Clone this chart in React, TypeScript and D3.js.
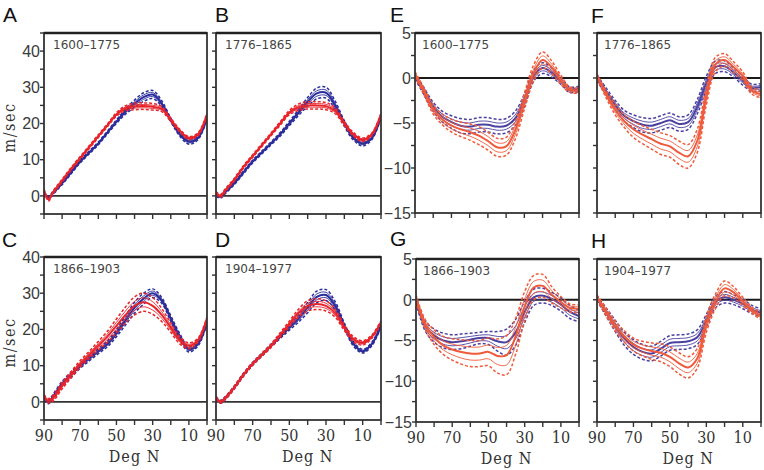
import React from "react";
import * as d3 from "d3";

// Latitude grids (deg N)
const LAT_U = [90, 87.5, 85, 80, 75, 70, 65, 60, 55, 50, 45, 40, 35, 30, 25, 20, 15, 10, 5, 0];
const LAT_V = [90, 85, 80, 75, 70, 65, 60, 55, 50, 45, 40, 35, 30, 25, 20, 15, 10, 5, 0];

// Zonal wind (m/sec), panels A-D
const A_BLUE = [0.8, -0.5, 0.8, 3.5, 6.5, 9.5, 12, 14.5, 17.5, 20.5, 23.3, 25.5, 27.3, 28, 25.5, 21, 17, 15, 16, 21.5];
const A_BLUE_SD = [0.4, 0.4, 0.4, 0.4, 0.4, 0.4, 0.4, 0.4, 0.4, 0.5, 0.7, 1.0, 1.2, 1.1, 0.8, 0.5, 0.5, 0.7, 0.5, 0.4];
const A_RED = [1.5, -1, 1, 4.2, 7.5, 10.5, 13.5, 16.5, 19.5, 22.5, 24.2, 24.7, 24.8, 24.6, 24, 21, 18, 16, 17, 22.5];
const A_RED_SD = [0.4, 0.4, 0.4, 0.4, 0.4, 0.4, 0.4, 0.4, 0.4, 0.5, 0.7, 0.9, 0.9, 0.9, 0.7, 0.5, 0.4, 0.4, 0.4, 0.4];

const B_BLUE = [0.3, -0.2, 1, 3.5, 6.5, 9.5, 12, 14.5, 17, 20, 23, 26, 28.3, 28.5, 25, 20, 16, 14.5, 16, 22];
const B_BLUE_SD = [0.4, 0.4, 0.4, 0.4, 0.4, 0.4, 0.4, 0.4, 0.5, 0.6, 0.8, 1.2, 1.5, 1.5, 1.2, 0.8, 0.6, 0.7, 0.5, 0.4];
const B_RED = [0.8, 0, 1.5, 4.5, 8, 11, 14, 17, 20, 23, 24.5, 25, 25, 24.8, 23.5, 20, 17, 15.5, 17, 22.5];
const B_RED_SD = [0.4, 0.4, 0.4, 0.4, 0.4, 0.4, 0.4, 0.4, 0.5, 0.6, 0.9, 1.0, 1.0, 1.0, 0.8, 0.6, 0.5, 0.5, 0.4, 0.4];

const C_BLUE = [1, 0, 1.5, 5, 7.5, 10, 12, 14, 16, 19, 22.5, 26, 28.5, 30, 28, 23, 18, 14.5, 16, 22];
const C_BLUE_SD = [0.5, 0.5, 0.6, 0.7, 0.7, 0.7, 0.7, 0.7, 0.8, 1.0, 1.3, 1.5, 1.5, 1.2, 0.8, 0.8, 0.8, 0.7, 0.6, 0.5];
const C_RED = [1.5, 0.3, 1, 4.5, 7.5, 10.5, 13, 15.5, 18, 21, 24, 26.5, 27.5, 26.5, 24, 20.5, 17, 15.5, 17, 23];
const C_RED_SD = [0.5, 0.6, 0.8, 0.9, 0.9, 0.9, 1.0, 1.2, 1.5, 1.9, 2.2, 2.5, 2.5, 2.3, 1.8, 1.3, 1.0, 0.8, 0.6, 0.5];

const D_BLUE = [1, 0, 1, 4, 7.5, 10.5, 13, 15.5, 18, 20.5, 23, 26, 29, 29.5, 26.5, 21, 16, 14, 16, 21];
const D_BLUE_SD = [0.4, 0.4, 0.4, 0.4, 0.4, 0.4, 0.4, 0.4, 0.5, 0.7, 1.0, 1.4, 1.6, 1.5, 1.2, 0.8, 0.6, 0.5, 0.5, 0.4];
const D_RED = [1.2, 0, 1, 4, 7.5, 10.5, 13, 15.5, 18.5, 21.5, 24.5, 26.5, 27, 26.5, 24.5, 20.5, 17.3, 16.3, 18, 22];
const D_RED_SD = [0.4, 0.4, 0.4, 0.4, 0.4, 0.4, 0.4, 0.5, 0.6, 0.8, 1.1, 1.4, 1.5, 1.4, 1.1, 0.8, 0.7, 0.6, 0.5, 0.4];

// Meridional wind (m/sec), panels E-H
const E_BLUE = [0.2, -1.5, -3.2, -4.3, -4.9, -5.3, -5.4, -5.2, -5.2, -5.4, -5.3, -4.5, -2.5, 0.2, 1.1, 0.6, -0.3, -1.3, -1.2];
const E_BLUE_SD = [0.3, 0.4, 0.5, 0.6, 0.7, 0.8, 0.8, 0.8, 0.8, 0.8, 0.8, 0.8, 0.7, 0.6, 0.6, 0.5, 0.4, 0.3, 0.3];
const E_RED = [0.4, -1.5, -3.5, -4.6, -5.3, -5.7, -6.0, -6.4, -7.0, -7.7, -7.6, -5.8, -2.6, 0.5, 2.0, 1.2, -0.2, -1.3, -1.4];
const E_RED_SD = [0.3, 0.4, 0.5, 0.6, 0.7, 0.8, 0.9, 1.0, 1.0, 1.0, 1.0, 1.0, 0.9, 0.9, 0.9, 0.7, 0.5, 0.3, 0.3];

const F_BLUE = [0, -1.5, -3, -4.2, -4.8, -5.2, -5.3, -5.0, -4.7, -5.1, -4.9, -3.2, -0.6, 1.2, 1.3, 0.6, -0.3, -1.1, -1.0];
const F_BLUE_SD = [0.3, 0.4, 0.5, 0.6, 0.7, 0.8, 0.8, 0.8, 0.8, 0.8, 0.8, 0.8, 0.8, 0.7, 0.6, 0.5, 0.5, 0.4, 0.4];
const F_RED = [0.2, -1.8, -3.5, -4.8, -5.7, -6.3, -6.8, -7.3, -7.6, -8.3, -8.7, -7.0, -2.0, 1.5, 2.0, 1.2, 0.2, -1.4, -1.8];
const F_RED_SD = [0.3, 0.4, 0.6, 0.7, 0.9, 1.0, 1.1, 1.2, 1.2, 1.3, 1.3, 1.3, 1.0, 0.8, 0.7, 0.6, 0.5, 0.4, 0.4];

const G_BLUE = [0, -3.2, -4.4, -5.0, -5.2, -5.1, -4.9, -4.7, -4.7, -5.1, -5.2, -4.0, -1.5, 0.3, 0.5, 0.1, -0.6, -1.5, -2.0];
const G_BLUE_SD = [0.4, 0.6, 0.8, 0.9, 0.9, 0.9, 0.8, 0.7, 0.8, 1.2, 1.6, 1.6, 1.3, 1.0, 0.9, 0.8, 0.8, 0.8, 0.7];
const G_RED = [0.2, -3.0, -4.6, -5.6, -6.1, -6.4, -6.6, -6.6, -6.4, -6.9, -6.8, -4.5, -0.8, 1.5, 1.7, 0.6, -0.3, -1.0, -1.1];
const G_RED_SD = [0.4, 0.6, 0.9, 1.1, 1.3, 1.5, 1.6, 1.6, 1.7, 2.1, 2.4, 2.2, 1.8, 1.5, 1.4, 1.0, 0.7, 0.5, 0.5];

const H_BLUE = [0.2, -1.5, -3.2, -4.8, -5.8, -6.4, -6.6, -6.0, -5.3, -5.2, -5.1, -4.6, -2.6, -0.3, 0.3, 0, -0.5, -1.2, -1.6];
const H_BLUE_SD = [0.3, 0.5, 0.7, 0.8, 0.9, 0.9, 0.9, 0.9, 0.9, 0.9, 0.9, 0.9, 0.8, 0.7, 0.7, 0.6, 0.6, 0.5, 0.5];
const H_RED = [0.3, -1.5, -3.2, -4.5, -5.5, -6.0, -6.3, -6.5, -7.0, -7.8, -8.3, -7.2, -3.0, -0.2, 1.4, 0.9, -0.2, -1.3, -2.0];
const H_RED_SD = [0.3, 0.5, 0.6, 0.7, 0.8, 0.9, 1.0, 1.1, 1.2, 1.3, 1.3, 1.2, 1.0, 0.9, 0.9, 0.7, 0.5, 0.4, 0.4];

const PERIODS = ["1600–1775", "1776–1865", "1866–1903", "1904–1977"];
const X_TICKS = [90, 80, 70, 60, 50, 40, 30, 20, 10, 0];
const X_LABELS = [90, 70, 50, 30, 10];
const U_LABELS = [0, 10, 20, 30, 40];
const V_LABELS = [5, 0, -5, -10, -15];

const COLORS = {
  u: { blue: "#2a2d9a", red: "#e8242b" },
  v: { blue: "#4a40a0", red: "#ef5a3a" },
};

type PanelCfg = {
  letter: string;
  period: string;
  kind: "u" | "v";
  blue: number[];
  blueSd: number[];
  red: number[];
  redSd: number[];
  box: [number, number, number, number];
  dom: [number, number];
  letterPos: [number, number];
  yLabels: boolean;
  xLabels: boolean;
};

const PANELS: PanelCfg[] = [
  { letter: "A", period: PERIODS[0], kind: "u", blue: A_BLUE, blueSd: A_BLUE_SD, red: A_RED, redSd: A_RED_SD, box: [44, 207, 33, 214], dom: [-5, 45], letterPos: [3, 22], yLabels: true, xLabels: false },
  { letter: "B", period: PERIODS[1], kind: "u", blue: B_BLUE, blueSd: B_BLUE_SD, red: B_RED, redSd: B_RED_SD, box: [216, 381, 33, 214], dom: [-5, 45], letterPos: [215, 22], yLabels: false, xLabels: false },
  { letter: "E", period: PERIODS[0], kind: "v", blue: E_BLUE, blueSd: E_BLUE_SD, red: E_RED, redSd: E_RED_SD, box: [415, 579, 33, 213], dom: [-15, 5], letterPos: [390, 22], yLabels: true, xLabels: false },
  { letter: "F", period: PERIODS[1], kind: "v", blue: F_BLUE, blueSd: F_BLUE_SD, red: F_RED, redSd: F_RED_SD, box: [597, 761, 33, 213], dom: [-15, 5], letterPos: [591, 23], yLabels: false, xLabels: false },
  { letter: "C", period: PERIODS[2], kind: "u", blue: C_BLUE, blueSd: C_BLUE_SD, red: C_RED, redSd: C_RED_SD, box: [44, 207, 257, 420], dom: [-5, 40], letterPos: [2, 247], yLabels: true, xLabels: true },
  { letter: "D", period: PERIODS[3], kind: "u", blue: D_BLUE, blueSd: D_BLUE_SD, red: D_RED, redSd: D_RED_SD, box: [216, 381, 257, 420], dom: [-5, 40], letterPos: [215, 247], yLabels: false, xLabels: true },
  { letter: "G", period: PERIODS[2], kind: "v", blue: G_BLUE, blueSd: G_BLUE_SD, red: G_RED, redSd: G_RED_SD, box: [416, 579, 259, 422], dom: [-15, 5], letterPos: [390, 246], yLabels: true, xLabels: true },
  { letter: "H", period: PERIODS[3], kind: "v", blue: H_BLUE, blueSd: H_BLUE_SD, red: H_RED, redSd: H_RED_SD, box: [597, 761, 259, 422], dom: [-15, 5], letterPos: [591, 248], yLabels: false, xLabels: true },
];

const SANS = "'Liberation Sans', Arial, sans-serif";
const SERIF = "'DejaVu Serif', serif";

function Family({ lat, mean, sd, color, x, y }: any) {
  const line = d3
    .line<number>()
    .x((_, i) => x(lat[i]))
    .y((v) => y(v))
    .curve(d3.curveCatmullRom.alpha(0.5));
  const band = (k: number) => line(mean.map((m: number, i: number) => m + k * sd[i])) || "";
  return (
    <g fill="none" stroke={color}>
      <path d={band(-1)} strokeWidth={1.5} strokeDasharray="3,2" />
      <path d={band(1)} strokeWidth={1.5} strokeDasharray="3,2" />
      <path d={band(-0.5)} strokeWidth={0.9} />
      <path d={band(0.5)} strokeWidth={0.9} />
      <path d={line(mean) || ""} strokeWidth={2} />
    </g>
  );
}

function Panel({ p }: { p: PanelCfg }) {
  const [x0, x1, y0, y1] = p.box;
  const x = d3.scaleLinear().domain([90, 0]).range([x0, x1]);
  const y = d3.scaleLinear().domain(p.dom).range([y1, y0]);
  const lat = p.kind === "u" ? LAT_U : LAT_V;
  const col = COLORS[p.kind];
  const step = p.kind === "u" ? 5 : 2.5;
  const yTicks = d3.range(p.dom[0], p.dom[1] + 0.001, step);
  const labels = p.kind === "u" ? U_LABELS : V_LABELS;
  const clipId = "clip" + p.letter;
  const fmt = (v: number) => (v < 0 ? "\u2212" + Math.abs(v) : String(v));
  return (
    <g>
      <defs>
        <clipPath id={clipId}>
          <rect x={x0} y={y0} width={x1 - x0} height={y1 - y0} />
        </clipPath>
      </defs>
      <text x={p.letterPos[0]} y={p.letterPos[1]} fontFamily={SANS} fontSize={21} fill="#111">
        {p.letter}
      </text>
      {/* zero line */}
      <line x1={x0} x2={x1} y1={y(0)} y2={y(0)} stroke={p.kind === "u" ? "#333" : "#1a1a1a"} strokeWidth={p.kind === "u" ? 1.6 : 2} />
      <g clipPath={`url(#${clipId})`}>
        <Family lat={lat} mean={p.blue} sd={p.blueSd} color={col.blue} x={x} y={y} />
        <Family lat={lat} mean={p.red} sd={p.redSd} color={col.red} x={x} y={y} />
      </g>
      {/* frame */}
      <rect x={x0} y={y0} width={x1 - x0} height={y1 - y0} fill="none" stroke="#333" strokeWidth={1.8} />
      <line x1={x0} x2={x1} y1={y0} y2={y0} stroke="#222" strokeWidth={2.6} />
      {/* y ticks */}
      {yTicks.map((t) => (
        <line key={"yt" + t} x1={x0 - 4} x2={x0} y1={y(t)} y2={y(t)} stroke="#333" strokeWidth={1.4} />
      ))}
      {p.yLabels &&
        labels.map((t) => (
          <text key={"yl" + t} x={x0 - 4} y={y(t)} dy="0.36em" textAnchor="end" fontFamily={SANS} fontSize={16} fill="#3a3a3a">
            {fmt(t)}
          </text>
        ))}
      {/* x ticks */}
      {X_TICKS.map((t) => (
        <line key={"xt" + t} x1={x(t)} x2={x(t)} y1={y1} y2={y1 + 5} stroke="#333" strokeWidth={1.4} />
      ))}
      {p.xLabels &&
        X_LABELS.map((t) => (
          <text key={"xl" + t} x={x(t)} y={y1 + 21} textAnchor="middle" fontFamily={SERIF} fontStretch="condensed" fontSize={16} fill="#333">
            {t}
          </text>
        ))}
      {p.xLabels && (
        <text x={x(40)} y={y1 + 42} textAnchor="middle" fontFamily={SERIF} fontStretch="condensed" fontSize={16} letterSpacing={1} fill="#333">
          Deg N
        </text>
      )}
      {p.yLabels && p.kind === "u" && (
        <text transform={`translate(${x0 - 29},${(y0 + y1) / 2 + 4}) rotate(-90)`} textAnchor="middle" fontFamily={SERIF} fontStretch="condensed" fontSize={16} letterSpacing={1.5} fill="#333">
          m/sec
        </text>
      )}
      <text x={x0 + (p.kind === "u" ? 9 : 7)} y={y0 + 16} fontFamily="'DejaVu Sans', sans-serif" fontSize={12} fill="#444">
        {p.period}
      </text>
    </g>
  );
}

export default function App() {
  return (
    <svg width={764} height={470} style={{ position: "absolute", left: 0, top: 0, background: "#fff" }}>
      <rect width={764} height={470} fill="#fff" />
      {PANELS.map((p) => (
        <Panel key={p.letter} p={p} />
      ))}
    </svg>
  );
}
